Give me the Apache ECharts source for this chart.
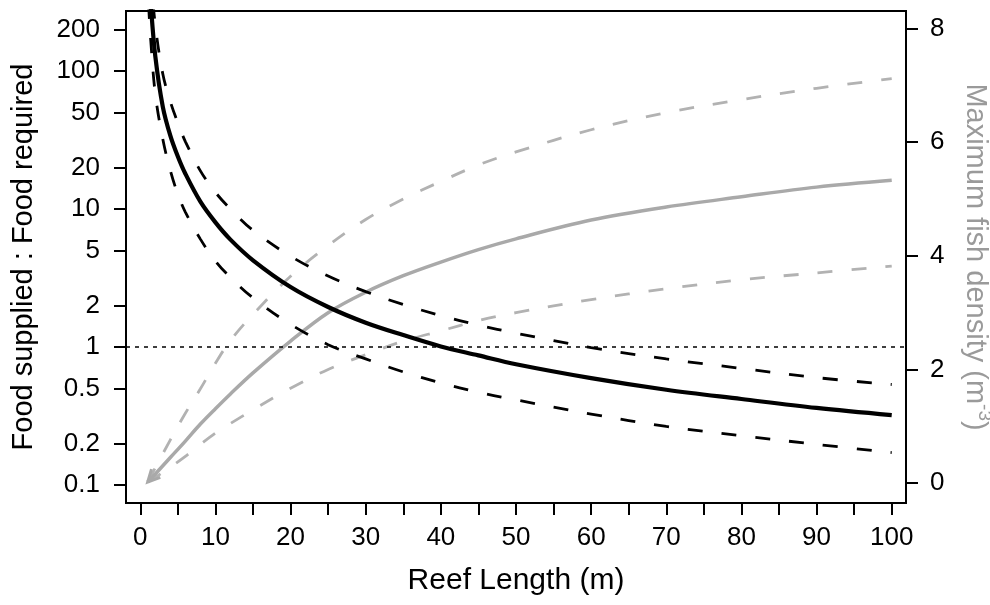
<!DOCTYPE html>
<html>
<head>
<meta charset="utf-8">
<script src="https://cdn.jsdelivr.net/npm/echarts@6/dist/echarts.min.js"></script>
<style>
html,body{margin:0;padding:0;background:#fff;}
#chart{width:990px;height:605px;}
</style>
</head>
<body>
<div id="chart"></div>
<script>
// Reef length (m) sample positions
var lengthBlack = [1.1, 1.4, 2, 3, 4, 5, 6, 8, 10, 12, 15, 20, 25, 30, 35, 40, 45, 50, 60, 70, 80, 90, 100];
// Food supplied : food required (log scale, left axis)
var ratioMid   = [570, 305, 128, 55, 34, 24, 18, 11.3, 8.0, 6.0, 4.25, 2.72, 1.95, 1.5, 1.22, 1.01, 0.87, 0.75, 0.595, 0.49, 0.42, 0.362, 0.321];
var ratioUpper = [950, 510, 215, 95, 60, 42, 30.8, 18.9, 13.2, 10.0, 7.0, 4.55, 3.27, 2.52, 2.03, 1.69, 1.44, 1.26, 0.99, 0.82, 0.70, 0.60, 0.535];
var ratioLower = [306, 165, 68, 32, 19, 12.8, 9.5, 6.05, 4.2, 3.19, 2.27, 1.46, 1.04, 0.82, 0.66, 0.55, 0.47, 0.414, 0.327, 0.266, 0.228, 0.197, 0.172];

var lengthGrey = [1, 2, 4, 6, 8, 10, 12, 15, 20, 25, 30, 35, 40, 45, 50, 60, 70, 80, 90, 100];
// Maximum fish density (m-3) (right axis)
var densityMid   = [0.02, 0.16, 0.45, 0.74, 1.04, 1.31, 1.57, 1.94, 2.50, 3.00, 3.36, 3.65, 3.89, 4.11, 4.30, 4.63, 4.86, 5.04, 5.21, 5.33];
var densityUpper = [0.02, 0.27, 0.76, 1.23, 1.66, 2.11, 2.51, 2.97, 3.64, 4.18, 4.64, 5.00, 5.31, 5.60, 5.83, 6.22, 6.52, 6.75, 6.95, 7.12];
var densityLower = [0.02, 0.10, 0.28, 0.47, 0.68, 0.88, 1.05, 1.29, 1.67, 2.00, 2.26, 2.50, 2.68, 2.86, 3.00, 3.23, 3.42, 3.58, 3.70, 3.82];

// Reference ratio line
var ratioReference = 1;

// Axis ticks
var xTicks = [0, 5, 10, 15, 20, 25, 30, 35, 40, 45, 50, 55, 60, 65, 70, 75, 80, 85, 90, 95, 100];
var xLabels = [0, 10, 20, 30, 40, 50, 60, 70, 80, 90, 100];
var leftTicks = [0.1, 0.2, 0.5, 1, 2, 5, 10, 20, 50, 100, 200];
var rightTicks = [0, 2, 4, 6, 8];

function pairs(xs, ys) {
  var out = [];
  for (var i = 0; i < xs.length; i++) out.push([xs[i], ys[i]]);
  return out;
}

var FONT = 'Liberation Sans';
var GREY = '#a9a9a9';
var GREY_D = '#b2b2b2';
var SMOOTH = 0.35;

var greyMidData = pairs(lengthGrey, densityMid);
greyMidData[0] = {
  value: greyMidData[0],
  symbol: 'path://M0,0L5,10L10,0',
  symbolSize: [12, 12],
  symbolRotate: -43,
  symbolOffset: [4, -4.3],
  itemStyle: { color: 'rgba(0,0,0,0)', borderColor: GREY, borderWidth: 3 }
};

var chart = echarts.init(document.getElementById('chart'), null, { renderer: 'canvas' });
chart.setOption({
  animation: false,
  backgroundColor: '#fff',
  textStyle: { fontFamily: FONT },
  grid: {
    left: 126, right: 84, top: 11, bottom: 102,
    containLabel: false, outerBoundsMode: 'none',
    show: true, borderColor: '#000', borderWidth: 2, backgroundColor: 'transparent'
  },
  xAxis: {
    type: 'value', min: -1.9, max: 101.9,
    axisLine: { show: true, onZero: false, lineStyle: { color: '#000', width: 2 } },
    axisTick: { show: true, customValues: xTicks, length: 12, lineStyle: { color: '#000', width: 2 } },
    axisLabel: { customValues: xLabels, fontSize: 26, color: '#000', margin: 22, fontFamily: FONT },
    splitLine: { show: false },
    name: 'Reef Length (m)', nameLocation: 'middle', nameGap: 63,
    nameTextStyle: { fontSize: 30, color: '#000', fontFamily: FONT }
  },
  yAxis: [
    {
      type: 'log', logBase: 10, min: 0.0741, max: 272, position: 'left',
      axisLine: { show: true, onZero: false, lineStyle: { color: '#000', width: 2 } },
      axisTick: { show: true, customValues: leftTicks, length: 12, lineStyle: { color: '#000', width: 2 } },
      axisLabel: { customValues: leftTicks, fontSize: 26, color: '#000', margin: 26, fontFamily: FONT,
        formatter: function (v) { return String(v); } },
      splitLine: { show: false },
      minorTick: { show: false },
      name: 'Food supplied : Food required', nameLocation: 'middle', nameGap: 88, nameRotate: 90,
      nameTextStyle: { fontSize: 29, color: '#000', fontFamily: FONT }
    },
    {
      type: 'value', min: -0.35, max: 8.31, position: 'right',
      axisLine: { show: true, onZero: false, lineStyle: { color: '#000', width: 2 } },
      axisTick: { show: true, customValues: rightTicks, length: 12, lineStyle: { color: '#000', width: 2 } },
      axisLabel: { customValues: rightTicks, fontSize: 26, color: '#000', margin: 24, fontFamily: FONT },
      splitLine: { show: false },
      name: '{t|Maximum fish density (m}{s|-3}{t|)}', nameLocation: 'middle', nameGap: 54, nameRotate: -90,
      nameTextStyle: {
        color: '#9a9a9a', fontFamily: FONT,
        rich: {
          t: { fontSize: 29, color: '#9a9a9a', fontFamily: FONT, verticalAlign: 'bottom', lineHeight: 34 },
          s: { fontSize: 19, color: '#9a9a9a', fontFamily: FONT, verticalAlign: 'top', lineHeight: 34 }
        }
      }
    }
  ],
  series: [
    { type: 'line', name: 'density upper', yAxisIndex: 1, data: pairs(lengthGrey, densityUpper),
      symbol: 'none', smooth: SMOOTH, silent: true,
      lineStyle: { color: GREY_D, width: 2.8, type: [15, 19] } },
    { type: 'line', name: 'density lower', yAxisIndex: 1, data: pairs(lengthGrey, densityLower),
      symbol: 'none', smooth: SMOOTH, silent: true,
      lineStyle: { color: GREY_D, width: 2.8, type: [15, 19] } },
    { type: 'line', name: 'density', yAxisIndex: 1, data: greyMidData,
      symbol: 'none', showSymbol: true, showAllSymbol: true, smooth: SMOOTH, silent: true,
      itemStyle: { color: GREY },
      lineStyle: { color: GREY, width: 3.5 } },
    { type: 'line', name: 'ratio upper', yAxisIndex: 0, data: pairs(lengthBlack, ratioUpper),
      symbol: 'none', smooth: SMOOTH, silent: true,
      lineStyle: { color: '#000', width: 2.8, type: [15, 19] } },
    { type: 'line', name: 'ratio lower', yAxisIndex: 0, data: pairs(lengthBlack, ratioLower),
      symbol: 'none', smooth: SMOOTH, silent: true,
      lineStyle: { color: '#000', width: 2.8, type: [15, 19] } },
    { type: 'line', name: 'ratio', yAxisIndex: 0, data: pairs(lengthBlack, ratioMid),
      symbol: 'none', smooth: SMOOTH, silent: true,
      lineStyle: { color: '#000', width: 4.2 },
      markLine: {
        silent: true, symbol: 'none', label: { show: false },
        lineStyle: { color: '#000', width: 1.5, type: [4, 5] },
        data: [{ yAxis: ratioReference }]
      } }
  ]
});
</script>
</body>
</html>
